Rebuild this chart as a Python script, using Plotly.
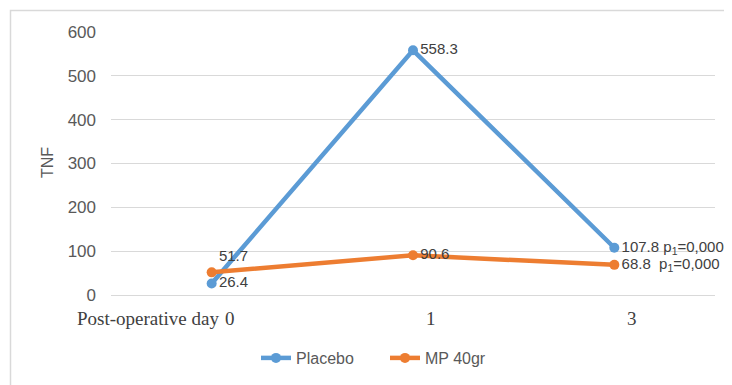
import plotly.graph_objects as go

categories = ["0", "1", "3"]
placebo = [26.4, 558.3, 107.8]
mp40 = [51.7, 90.6, 68.8]
placebo_labels = ["26.4", "558.3", "107.8 p<sub>1</sub>=0,000"]
mp40_labels = ["51.7", "90.6", "68.8  p<sub>1</sub>=0,000"]
y_ticks = [0, 100, 200, 300, 400, 500, 600]

# page body has an 8px margin; work in screen pixels and convert
OFF = 8
W, H = 732 - OFF, 385 - OFF
PL, PR, PT, PB = 111, 715, 32, 295  # plot area in screen pixels
L, R, T, B = PL - OFF, W - (PR - OFF), PT - OFF, H - (PB - OFF)
pw, ph = PR - PL, PB - PT


def px(sx):
    return (sx - PL) / pw


def py(sy):
    return (PB - sy) / ph


label_font = dict(family="Liberation Sans, Arial", size=15, color="#404040")

fig = go.Figure()
fig.add_trace(go.Scatter(
    x=categories, y=placebo, name="Placebo", mode="lines+markers+text",
    line=dict(color="#5B9BD5", width=4.5), marker=dict(size=10, color="#5B9BD5"),
    text=placebo_labels, textposition=["middle right", "middle right", "middle right"],
    textfont=label_font, cliponaxis=False,
))
fig.add_trace(go.Scatter(
    x=categories, y=mp40, name="MP 40gr", mode="lines+markers+text",
    line=dict(color="#ED7D31", width=4.5), marker=dict(size=10, color="#ED7D31"),
    text=mp40_labels, textposition=["top right", "middle right", "middle right"],
    textfont=label_font, cliponaxis=False,
))

serif = dict(family="Liberation Serif, Times New Roman", size=19, color="#404040")
for i, c in enumerate(categories):
    fig.add_annotation(x=i, y=0, yref="paper", text=c, showarrow=False,
                       xshift=18, yshift=-23, yanchor="middle", font=serif)
fig.add_annotation(x=px(221), xref="paper", xanchor="right", y=0, yref="paper",
                   yshift=-23, yanchor="middle", text="Post-operative day", showarrow=False,
                   font=serif)
fig.add_annotation(x=px(47), xref="paper", xanchor="center", y=py(163), yref="paper",
                   yanchor="middle", text="TNF", textangle=-90, showarrow=False,
                   font=dict(family="Liberation Sans, Arial", size=16, color="#595959"))

fig.add_shape(type="rect", xref="paper", yref="paper",
              x0=px(10.5), x1=px(731), y0=-2, y1=py(10.5),
              line=dict(color="#d9d9d9", width=1.5), fillcolor="rgba(0,0,0,0)", layer="below")

fig.update_layout(
    width=W, height=H, margin=dict(l=L, r=R, t=T, b=B, autoexpand=False),
    plot_bgcolor="white", paper_bgcolor="white",
    showlegend=True,
    legend=dict(orientation="h", x=px(256), xanchor="left",
                y=py(358), yanchor="middle", entrywidth=84,
                font=dict(family="Liberation Sans, Arial", size=16, color="#595959")),
    xaxis=dict(type="category", categoryorder="array", categoryarray=categories,
               showticklabels=False, showgrid=False, zeroline=False, showline=False,
               range=[-0.5, 2.5]),
    yaxis=dict(range=[0, 600], tickvals=y_ticks, showgrid=True, gridcolor="#d9d9d9",
               gridwidth=1, zeroline=True, zerolinecolor="#d9d9d9", zerolinewidth=1,
               showline=False, ticklabelstandoff=14,
               tickfont=dict(family="Liberation Sans, Arial", size=17, color="#595959")),
)

fig.write_html("out.html")
